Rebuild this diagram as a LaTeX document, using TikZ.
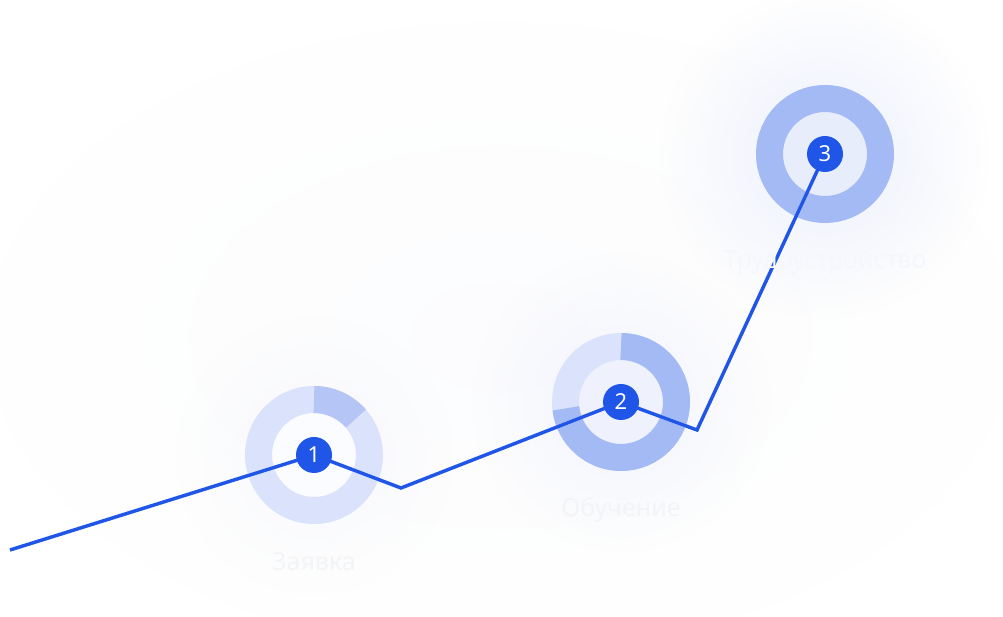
\documentclass[tikz,border=0pt]{standalone}
\usepackage{fontspec}
\setmainfont{Noto Sans}
\usetikzlibrary{fadings}
\definecolor{lineblue}{HTML}{1F56E8}
\definecolor{shadowblue}{HTML}{DCE3FA}
\definecolor{ringlight}{HTML}{DAE3FB}
\definecolor{ringmid}{HTML}{B5C6F6}
\definecolor{ringdark}{HTML}{A3BAF5}
\definecolor{glowcol}{HTML}{E2E7FC}
\definecolor{labelcol}{HTML}{F3F4F8}
\definecolor{labelcolb}{HTML}{F6F7FC}
\tikzfading[name=glowfade, inner color=transparent!0, outer color=transparent!100]
\tikzset{
  ring/.style={line width=27pt},
  badge/.style={circle, fill=lineblue, minimum size=36pt, inner sep=0pt, text=white, font=\fontsize{22}{22}\selectfont},
  steplabel/.style={text=labelcol, font=\fontsize{25}{25}\selectfont, inner sep=0pt},
  path line/.style={line width=3.4pt, line join=miter, draw=lineblue},
  path shadow/.style={line width=3.4pt, line join=miter, draw=shadowblue}
}
\begin{document}
\begin{tikzpicture}[x=1pt,y=1pt]
\useasboundingbox (0,0) rectangle (1003,617);
\fill[white] (0,0) rectangle (1003,617);
% glows
\fill[glowcol, opacity=0.1, path fading=glowfade] (500,280) ellipse (520 and 320);
\fill[glowcol, opacity=0.22, path fading=glowfade] (314,162) circle (140);
\fill[glowcol, opacity=0.38, path fading=glowfade] (621,215) circle (150);
\fill[glowcol, opacity=0.6, path fading=glowfade] (825,463) circle (165);
% coordinates
\coordinate (s) at (10,67);
\coordinate (c1) at (314,162);
\coordinate (v1) at (401,129);
\coordinate (c2) at (621,215);
\coordinate (v2) at (697,187);
\coordinate (c3) at (825,463);
% ring 1
\fill[color={rgb,255:red,251;green,252;blue,255}] (c1) circle (42);
\draw[ring, ringlight] (c1) circle (55.5);
\draw[ring, ringmid] ([shift={(90:55.5)}]c1) arc[start angle=90, end angle=41, radius=55.5];
% ring 2
\fill[color={rgb,255:red,239;green,242;blue,253}] (c2) circle (42);
\draw[ring, ringlight] (c2) circle (55.5);
\draw[ring, ringdark] ([shift={(90:55.5)}]c2) arc[start angle=90, end angle=-173.4, radius=55.5];
% ring 3
\fill[color={rgb,255:red,232;green,237;blue,252}] (c3) circle (42);
\draw[ring, ringdark] (c3) circle (55.5);
% labels behind
\node[steplabel] (l1) at (314,55) {Заявка};
\node[steplabel] (l2) at (621,107) {Обучение};
% shadow line
\begin{scope}[yshift=-4pt]
\draw[path shadow] (s) -- (c1) -- (v1) -- (c2) -- (v2) -- (c3);
\end{scope}
% main line
\draw[path line] (s) -- (c1) -- (v1) -- (c2) -- (v2) -- (c3);
% label over line
\node[steplabel, text=labelcolb] (l3) at (825,355) {Трудоустройство};
% badges
\node[badge] (b1) at (c1) {1};
\node[badge] (b2) at (c2) {2};
\node[badge] (b3) at (c3) {3};
\end{tikzpicture}
\end{document}
